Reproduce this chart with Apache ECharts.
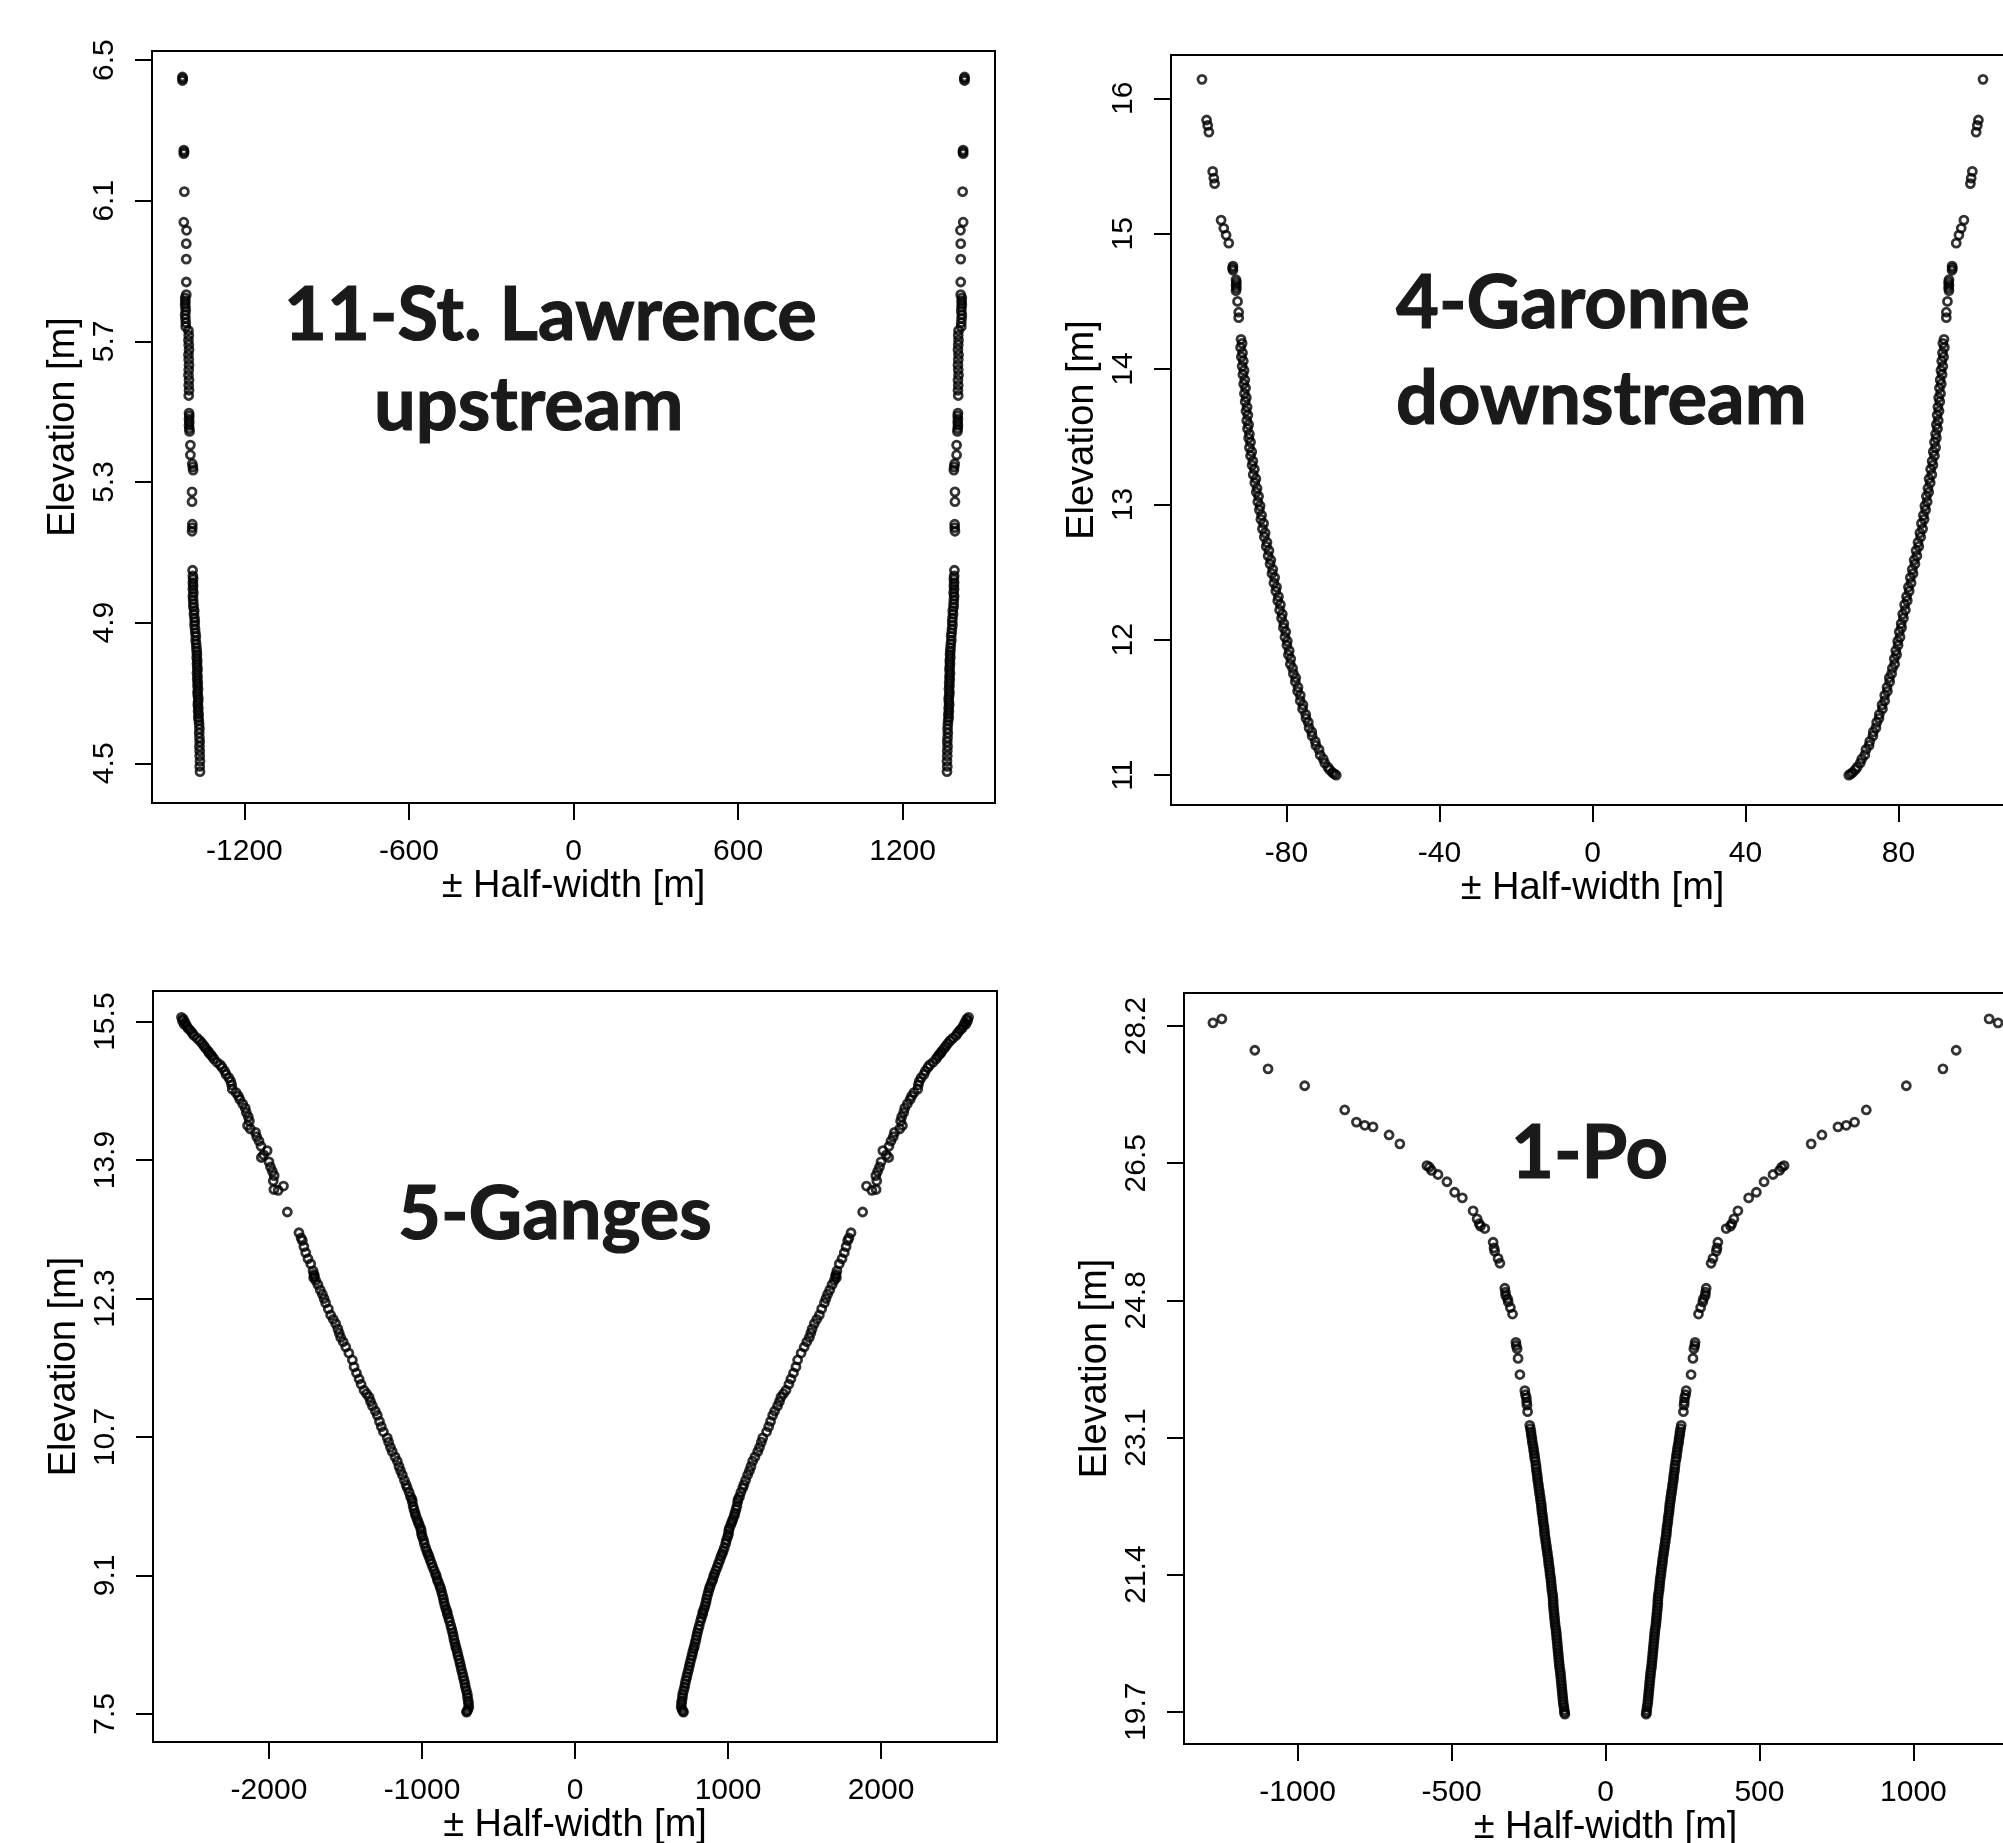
<!DOCTYPE html>
<html>
<head>
<meta charset="utf-8">
<script src="https://cdn.jsdelivr.net/npm/echarts@6/dist/echarts.min.js"></script>
<style>
  html, body { margin: 0; padding: 0; background: #fff; }
  #chart { width: 2003px; height: 1843px; }
</style>
</head>
<body>
<div id="chart"></div>
<script>
// Cross-section points of four rivers: [half-width (m), elevation (m)].
// Each point is drawn twice, at -half-width and +half-width.
const stLawrence = [
  [1426,6.452],[1425,6.447],[1426,6.442],[1421,6.244],[1420,6.239],[1421,6.234],[1419,6.126],
  [1421,6.039],[1411,6.016],[1412,5.978],[1412,5.934],[1412,5.869],[1412,5.833],
  [1416,5.824],[1415,5.815],[1416,5.806],[1415,5.797],[1414,5.787],[1416,5.776],[1415,5.765],[1414,5.753],[1414,5.742],
  [1404,5.731],[1403,5.717],[1404,5.703],[1403,5.690],[1402,5.676],[1404,5.662],[1403,5.648],[1402,5.633],
  [1403,5.619],[1404,5.604],[1402,5.590],[1403,5.575],[1402,5.561],[1403,5.546],
  [1402,5.496],[1401,5.488],[1402,5.479],[1401,5.470],[1402,5.461],[1401,5.452],[1400,5.444],
  [1397,5.405],[1397,5.377],[1390,5.352],[1388,5.343],[1387,5.334],[1391,5.272],[1391,5.244],
  [1390,5.180],[1390,5.170],[1391,5.160],[1389,5.049],
  [1388,5.033],[1387,5.024],[1388,5.014],[1387,5.005],[1388,4.995],[1386,4.985],[1388,4.975],[1387,4.965],[1386,4.954],[1386,4.944],
  [1383,4.934],[1384,4.924],[1382,4.913],[1381,4.903],[1382,4.893],[1380,4.882],[1379,4.871],[1377,4.861],[1378,4.850],[1376,4.840],[1375,4.829],
  [1374,4.819],[1373,4.810],[1374,4.801],[1372,4.792],[1373,4.783],[1372,4.774],[1371,4.765],[1373,4.756],[1371,4.747],[1372,4.738],
  [1370,4.729],[1371,4.720],[1369,4.711],[1371,4.702],[1370,4.693],[1368,4.684],[1369,4.675],[1370,4.666],[1368,4.657],[1369,4.648],
  [1367,4.639],[1368,4.630],[1366,4.621],
  [1365,4.610],[1364,4.598],[1365,4.586],[1364,4.573],[1363,4.561],[1364,4.548],[1363,4.535],[1363,4.521],[1362,4.506],[1363,4.491],[1362,4.476]
];

const garonne = [
  [102.1,16.14],[100.9,15.84],[100.6,15.80],[100.3,15.75],[99.3,15.46],[99.0,15.41],[98.8,15.37],
  [97.1,15.10],[96.4,15.04],[95.8,14.99],[95.1,14.93],[94.0,14.76],[94.1,14.745],[94.0,14.73],
  [93.2,14.66],[93.1,14.64],[93.2,14.62],[93.1,14.60],[93.2,14.58],[92.8,14.50],[92.5,14.42],[92.5,14.38],
  [91.9,14.22],[91.6,14.19],[92.0,14.16],[91.5,14.12],[91.8,14.09],[91.3,14.06],[91.6,14.02],[91.1,13.99],
  [91.4,13.96],[90.9,13.92],[91.2,13.89],[90.7,13.86],[91.0,13.82],[90.5,13.79],[90.8,13.76],[90.3,13.72],
  [90.6,13.69],[90.1,13.66],[90.4,13.62],[89.9,13.59],[90.2,13.56],[89.7,13.52],[89.9,13.49],[89.4,13.46],
  [89.7,13.42],[89.1,13.39],[89.4,13.36],[88.8,13.32],[89.0,13.29],[88.4,13.26],[88.7,13.22],[88.0,13.19],
  [88.3,13.16],[87.7,13.12],[87.9,13.09],[87.3,13.06],[87.5,13.02],[86.9,12.99],[87.1,12.96],[86.5,12.92],
  [86.7,12.89],[86.0,12.86],[86.3,12.82],[85.6,12.79],[85.8,12.76],[85.1,12.72],[85.3,12.69],[84.6,12.66],
  [84.8,12.62],[84.1,12.59],[84.3,12.56],[83.6,12.52],[83.8,12.49],[83.1,12.46],[83.3,12.42],[82.6,12.39],
  [82.8,12.36],[82.1,12.32],[82.3,12.29],[81.6,12.26],[81.8,12.22],[81.1,12.19],[81.3,12.16],[80.7,12.12],
  [80.8,12.09],[80.2,12.06],[80.4,12.02],[79.8,11.99],[79.9,11.96],[79.3,11.92],[79.5,11.89],[78.9,11.86],
  [79.0,11.82],[78.4,11.79],[78.2,11.75],[77.6,11.72],[77.7,11.69],[77.0,11.65],[77.1,11.62],[76.4,11.59],
  [76.4,11.55],[75.7,11.52],[75.8,11.49],[75.0,11.45],[74.9,11.42],[74.3,11.39],[74.1,11.35],[73.4,11.32],
  [73.3,11.29],[72.5,11.25],[72.3,11.22],[71.5,11.19],[71.2,11.15],[70.4,11.12],[70.0,11.09],[69.2,11.06],
  [68.7,11.04],[68.0,11.02],[67.5,11.01],[67.0,11.00]
];

const ganges = [
  [2572,15.55],[2560,15.53],[2566,15.51],[2548,15.49],[2555,15.47],[2537,15.45],[2528,15.42],[2515,15.40],
  [2502,15.37],[2490,15.34],[2470,15.31],[2452,15.28],[2438,15.25],[2425,15.22],[2412,15.19],[2398,15.16],
  [2392,15.14],[2381,15.12],[2372,15.10],[2360,15.07],[2340,15.03],[2318,15.00],[2306,14.97],[2290,14.93],
  [2280,14.89],[2262,14.85],[2250,14.81],[2244,14.77],[2240,14.72],[2215,14.68],[2200,14.64],[2190,14.60],
  [2172,14.55],[2155,14.50],[2148,14.45],[2135,14.40],[2128,14.35],[2140,14.30],[2122,14.26],[2088,14.22],
  [2080,14.17],[2065,14.12],[2052,14.06],[2012,14.01],[2035,13.96],[2050,13.93],[2000,13.88],[1990,13.82],
  [1978,13.77],[1966,13.72],[1972,13.66],[1905,13.60],[1968,13.56],[1940,13.55],[1880,13.30],[1804,13.06],
  [1790,13.00],[1782,12.97],[1772,12.90],[1760,12.83],[1745,12.76],[1727,12.70],[1712,12.62],[1706,12.58],
  [1703,12.56],[1708,12.54],[1695,12.51],[1680,12.46],[1665,12.40],[1651,12.35],[1640,12.30],[1630,12.25],
  [1612,12.18],[1597,12.11],[1580,12.06],[1564,12.01],[1550,11.95],[1541,11.90],[1531,11.85],[1515,11.80],
  [1498,11.74],[1478,11.67],[1455,11.59],[1444,11.51],[1428,11.44],[1411,11.37],[1398,11.31],[1379,11.24],
  [1362,11.20],[1346,11.16],[1336,11.11],[1324,11.06],[1305,11.00],[1292,10.95],[1278,10.88],[1266,10.82],
  [1252,10.76],[1227,10.69],[1218,10.64],[1206,10.58],[1194,10.53],[1176,10.47],[1161,10.42],[1150,10.36],
  [1140,10.31],[1128,10.26],[1115,10.20],[1104,10.15],[1096,10.11],[1084,10.06],[1075,10.01],[1066,9.98],
  [1063,9.95],[1058,9.90],[1052,9.86],[1045,9.82],[1041,9.79],[1032,9.75],[1026,9.72],[1019,9.69],
  [1010,9.65],[1005,9.62],[1003,9.58],[998,9.55],[990,9.51],[985,9.47],[976,9.42],[968,9.38],
  [962,9.35],[954,9.32],[947,9.28],[938,9.24],[930,9.20],[921,9.16],[912,9.12],[906,9.09],
  [900,9.05],[893,9.02],[884,8.98],[878,8.95],[872,8.91],[866,8.87],[860,8.83],[856,8.79],
  [850,8.75],[843,8.71],[836,8.68],[834,8.65],[826,8.61],[820,8.57],[812,8.52],[806,8.48],
  [800,8.44],[795,8.40],[791,8.36],[785,8.32],[780,8.28],[775,8.25],[769,8.21],[764,8.17],
  [758,8.13],[752,8.09],[747,8.05],[742,8.01],[736,7.97],[731,7.93],[725,7.89],[720,7.85],
  [716,7.81],[710,7.77],[704,7.73],[702,7.69],[698,7.65],[696,7.62],[694,7.58],[700,7.55],
  [706,7.53],[709,7.52]
];

const po = [
  [1246,28.29],[1275,28.24],[1139,27.90],[1096,27.67],[977,27.46],[847,27.16],[809,27.01],[782,26.97],
  [755,26.95],[703,26.85],[668,26.74],[580,26.47],[572,26.45],[565,26.41],[544,26.36],[515,26.27],
  [490,26.14],[465,26.07],[430,25.91],[417,25.81],[410,25.75],[406,25.72],[392,25.69],[365,25.52],
  [362,25.45],[360,25.41],[349,25.32],[343,25.26],[327,24.95],[325,24.90],[324,24.86],[318,24.82],
  [316,24.78],[309,24.71],[302,24.63],[291,24.28],[290,24.24],[287,24.20],[284,24.08],[278,23.88],
  [262,23.68],[260,23.63],[257,23.59],[256,23.54],[255,23.50],[253,23.42],
  [246,23.25],[244,23.21],[242,23.17],[241,23.13],[239,23.09],[238,23.05],[236,23.01],[234,22.97],
  [233,22.93],[231,22.89],[230,22.85],[228,22.81],[226,22.76],[225,22.72],[224,22.68],[222,22.64],
  [221,22.60],[220,22.56],[218,22.52],[217,22.48],[215,22.44],[214,22.40],[212,22.36],[211,22.32],
  [209,22.28],[208,22.24],[207,22.20],[206,22.16],[204,22.12],[203,22.08],[202,22.04],[200,22.00],
  [199,21.96],[198,21.92],[197,21.88],[195,21.84],[194,21.80],[192,21.76],[191,21.72],[189,21.68],
  [188,21.64],[186,21.60],[185,21.56],[184,21.52],[182,21.48],[181,21.44],[180,21.40],[178,21.36],
  [177,21.32],[176,21.28],[175,21.24],[174,21.20],[172,21.16],[171,21.12],[170,21.08],[170,21.04],
  [169,21.00],[168,20.96],[167,20.92],[166,20.88],[165,20.84],[164,20.80],[163,20.76],[161,20.72],
  [160,20.68],[159,20.64],[158,20.60],[157,20.56],[156,20.52],[155,20.48],[154,20.44],[153,20.40],
  [152,20.36],[151,20.32],[150,20.28],[149,20.24],[147,20.20],[146,20.16],[145,20.12],[144,20.08],
  [143,20.04],[142,20.00],[141,19.96],[140,19.92],[139,19.88],[138,19.84],[137,19.80],[135,19.76],
  [134,19.72],[133,19.69],[132,19.67]
];

// Tick positions for each panel
const stLawrenceXTicks = [-1200, -600, 0, 600, 1200];
const stLawrenceYTicks = [4.5, 4.9, 5.3, 5.7, 6.1, 6.5];
const garonneXTicks = [-80, -40, 0, 40, 80];
const garonneYTicks = [11, 12, 13, 14, 15, 16];
const gangesXTicks = [-2000, -1000, 0, 1000, 2000];
const gangesYTicks = [7.5, 9.1, 10.7, 12.3, 13.9, 15.5];
const poXTicks = [-1000, -500, 0, 500, 1000];
const poYTicks = [19.7, 21.4, 23.1, 24.8, 26.5, 28.2];

// Panel titles (one entry per line)
const titles = [
  ['11-St. Lawrence', 'upstream'],
  ['4-Garonne', 'downstream'],
  ['5-Ganges'],
  ['1-Po']
];

const FONT = 'Liberation Sans, Arial, sans-serif';

const panels = [
  { data: stLawrence, grid: { left: 152, top: 51, width: 843, height: 752 },
    x: [-1537, 1537], y: [4.387, 6.526], xt: stLawrenceXTicks, yt: stLawrenceYTicks, yf: v => v.toFixed(1) },
  { data: garonne, grid: { left: 1171, top: 55, width: 843, height: 750 },
    x: [-110.2, 110.2], y: [10.78, 16.32], xt: garonneXTicks, yt: garonneYTicks, yf: v => String(v) },
  { data: ganges, grid: { left: 153, top: 991, width: 844, height: 751 },
    x: [-2758, 2758], y: [7.175, 15.854], xt: gangesXTicks, yt: gangesYTicks, yf: v => v.toFixed(1) },
  { data: po, grid: { left: 1184, top: 993, width: 843, height: 751 },
    x: [-1369, 1369], y: [19.30, 28.61], xt: poXTicks, yt: poYTicks, yf: v => v.toFixed(1) }
];

const grids = [], xAxes = [], yAxes = [], series = [];
panels.forEach((p, i) => {
  grids.push(Object.assign({ show: true, borderColor: '#000', borderWidth: 2,
    backgroundColor: 'transparent', containLabel: false, outerBoundsMode: 'none' }, p.grid));
  xAxes.push({
    type: 'value', gridIndex: i, min: p.x[0], max: p.x[1], position: 'bottom',
    name: '\u00b1 Half-width [m]', nameLocation: 'middle', nameGap: 63,
    nameTextStyle: { fontFamily: FONT, fontSize: 38, color: '#000' },
    axisLine: { show: false, onZero: false },
    axisTick: { show: true, length: 17, customValues: p.xt, lineStyle: { color: '#000', width: 2 } },
    axisLabel: { customValues: p.xt, margin: 34, fontFamily: FONT, fontSize: 30, color: '#000',
      formatter: v => String(v) },
    splitLine: { show: false }
  });
  yAxes.push({
    type: 'value', gridIndex: i, min: p.y[0], max: p.y[1], position: 'left',
    name: 'Elevation [m]', nameLocation: 'middle', nameGap: 69, nameRotate: 90,
    nameTextStyle: { fontFamily: FONT, fontSize: 38, color: '#000' },
    axisLine: { show: false, onZero: false },
    axisTick: { show: true, length: 17, customValues: p.yt, lineStyle: { color: '#000', width: 2 } },
    axisLabel: { customValues: p.yt, rotate: 90, margin: 32, fontFamily: FONT, fontSize: 30, color: '#000',
      formatter: p.yf },
    splitLine: { show: false }
  });
  const pts = [];
  p.data.forEach(d => { pts.push([-d[0], d[1]]); pts.push([d[0], d[1]]); });
  series.push({
    type: 'scatter', xAxisIndex: i, yAxisIndex: i, data: pts,
    symbol: 'circle', symbolSize: 8, silent: true, clip: false,
    itemStyle: { color: 'rgba(0,0,0,0)', borderColor: '#000', borderWidth: 2.8 },
    emphasis: { disabled: true }
  });
});

const titleFont = 'bold 74px Lato, "Open Sans", sans-serif';
const titlePos = [
  [[284, 316], [374, 406]],
  [[1396, 304], [1396, 400]],
  [[398, 1215]],
  [[1511, 1154]]
];
const graphic = [];
titles.forEach((lines, i) => {
  lines.forEach((t, j) => {
    graphic.push({
      type: 'text', x: titlePos[i][j][0], y: titlePos[i][j][1], silent: true,
      style: { text: t, font: titleFont, fill: '#1a1a1a', stroke: '#1a1a1a', lineWidth: 1.2,
        align: 'left', verticalAlign: 'middle' }
    });
  });
});

const chart = echarts.init(document.getElementById('chart'), null, { renderer: 'canvas' });
chart.setOption({
  animation: false,
  backgroundColor: '#fff',
  grid: grids,
  xAxis: xAxes,
  yAxis: yAxes,
  series: series,
  graphic: graphic
});
</script>
</body>
</html>
